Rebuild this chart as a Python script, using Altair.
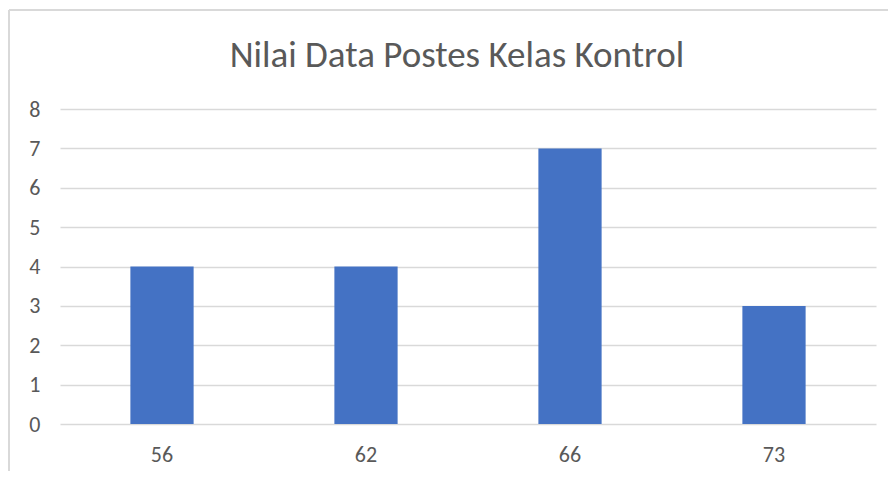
import altair as alt
import pandas as pd

categories = ["56", "62", "66", "73"]
values = [4, 4, 7, 3]
title_text = "Nilai Data Postes Kelas Kontrol"

df = pd.DataFrame({"nilai": categories, "jumlah": values})
tdf = pd.DataFrame({"t": [title_text]})

FONT = "Carlito, Calibri, Lato, sans-serif"
GRAY = "#595959"

bars = alt.Chart(df).mark_bar(color="#4472C4").encode(
    x=alt.X("nilai:N", sort=categories, title=None,
            scale=alt.Scale(paddingInner=0.69, paddingOuter=0.345),
            axis=alt.Axis(labelAngle=0, domain=False, ticks=False, labelPadding=20,
                          labelFontSize=22, labelColor=GRAY, labelFont=FONT, grid=False)),
    y=alt.Y("jumlah:Q", title=None,
            scale=alt.Scale(domain=[0, 8], nice=False),
            axis=alt.Axis(values=list(range(0, 9)), domain=False, ticks=False, labelPadding=20,
                          labelFontSize=22, labelColor=GRAY, labelFont=FONT,
                          grid=True, gridColor="#d9d9d9", gridWidth=1.5)),
)

border_top = alt.Chart(df).mark_rule(color="#d9d9d9", strokeWidth=2, clip=False).encode(
    x=alt.value(-51), x2=alt.value(900), y=alt.value(-99)
)
border_left = alt.Chart(df).mark_rule(color="#d9d9d9", strokeWidth=2, clip=False).encode(
    x=alt.value(-51), y=alt.value(-99), y2=alt.value(400)
)
title = alt.Chart(tdf).mark_text(font=FONT, fontSize=37, fontWeight=300, color=GRAY,
                                 align="center", baseline="alphabetic").encode(
    text="t:N", x=alt.value(397), y=alt.value(-42)
)

chart = alt.layer(border_top, border_left, title, bars).properties(
    width=816, height=315,
    padding={"left": 52, "top": 101, "right": 12, "bottom": 47},
    autosize=alt.AutoSizeParams(type="none"),
).configure_view(stroke=None)

chart.save("out.html", embed_options={"renderer": "svg", "actions": False})
